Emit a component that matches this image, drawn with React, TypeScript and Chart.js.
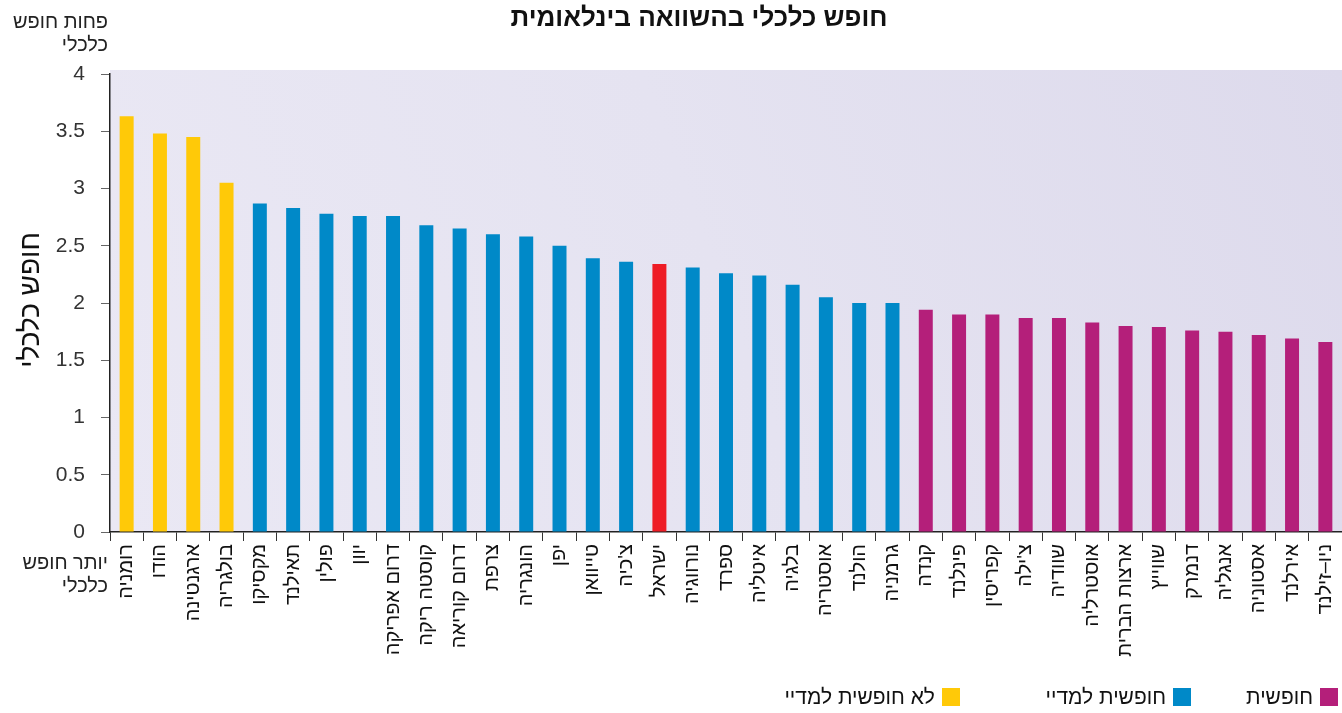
import React, { useEffect, useRef } from "react";
import { Chart, registerables } from "chart.js";

Chart.register(...registerables);

const categories = [
  "רומניה", "הודו", "ארגנטינה", "בולגריה", "מקסיקו", "תאילנד", "פולין", "יוון",
  "דרום אפריקה", "קוסטה ריקה", "דרום קוריאה", "צרפת", "הונגריה", "יפן", "טייוואן",
  "צ'כיה", "ישראל", "נורווגיה", "ספרד", "איטליה", "בלגיה", "אוסטריה", "הולנד",
  "גרמניה", "קנדה", "פינלנד", "קפריסין", "צ'ילה", "שוודיה", "אוסטרליה",
  "ארצות הברית", "שווייץ", "דנמרק", "אנגליה", "אסטוניה", "אירלנד", "ניו–זילנד",
];

const values = [
  3.63, 3.48, 3.45, 3.05, 2.87, 2.83, 2.78, 2.76,
  2.76, 2.68, 2.65, 2.6, 2.58, 2.5, 2.39,
  2.36, 2.34, 2.31, 2.26, 2.24, 2.16, 2.05, 2.0,
  2.0, 1.94, 1.9, 1.9, 1.87, 1.87, 1.83,
  1.8, 1.79, 1.76, 1.75, 1.72, 1.69, 1.66,
];

// 0 = free, 1 = mostly free, 2 = not free, 3 = highlighted (Israel)
const groups = [
  2, 2, 2, 2, 1, 1, 1, 1,
  1, 1, 1, 1, 1, 1, 1,
  1, 3, 1, 1, 1, 1, 1, 1,
  1, 0, 0, 0, 0, 0, 0,
  0, 0, 0, 0, 0, 0, 0,
];

const groupColors = ["#B41F7A", "#0089C8", "#FFC908", "#EE1C25"];

const legendLabels = ["חופשית", "חופשית למדיי", "לא חופשית למדיי"];
const legendColors = ["#B41F7A", "#0089C8", "#FFC908"];

const chartTitle = "חופש כלכלי בהשוואה בינלאומית";
const yAxisTitle = "חופש כלכלי";
const topNote = ["פחות חופש", "כלכלי"];
const bottomNote = ["יותר חופש", "כלכלי"];

const yMin = 0;
const yMax = 4;
const yStep = 0.5;

const FONT = "'Liberation Sans', Arial, sans-serif";

const decorPlugin = {
  id: "decor",
  beforeDraw(chart: any) {
    const { ctx, chartArea } = chart;
    const { left, right, top, bottom } = chartArea;
    ctx.save();
    const g = ctx.createLinearGradient(left, bottom, right, top - 4);
    g.addColorStop(0, "#EAE8F4");
    g.addColorStop(0.5, "#E5E3F1");
    g.addColorStop(1, "#DDDAEC");
    ctx.fillStyle = g;
    ctx.fillRect(left, top - 4, right - left, bottom - top + 4);
    ctx.restore();
  },
  afterDraw(chart: any) {
    const { ctx } = chart;
    ctx.save();
    // title
    ctx.fillStyle = "#111";
    ctx.font = `bold 26px ${FONT}`;
    ctx.textAlign = "center";
    ctx.textBaseline = "middle";
    ctx.fillText(chartTitle, 699, 19);

    // y axis title
    ctx.save();
    ctx.translate(31, 300);
    ctx.rotate(-Math.PI / 2);
    ctx.font = `28px ${FONT}`;
    ctx.fillStyle = "#111";
    ctx.textAlign = "center";
    ctx.textBaseline = "middle";
    ctx.fillText(yAxisTitle, 0, 0);
    ctx.restore();

    // corner notes
    ctx.font = `20px ${FONT}`;
    ctx.fillStyle = "#222";
    ctx.textAlign = "right";
    ctx.textBaseline = "middle";
    ctx.fillText(topNote[0], 108, 22);
    ctx.fillText(topNote[1], 108, 45);
    ctx.fillText(bottomNote[0], 108, 563);
    ctx.fillText(bottomNote[1], 108, 586);

    // legend (right to left)
    ctx.font = `21px ${FONT}`;
    const boxRights = [1338, 1191, 960];
    const y = 697;
    const box = 18;
    for (let i = 0; i < legendLabels.length; i++) {
      const x = boxRights[i];
      ctx.fillStyle = legendColors[i];
      ctx.fillRect(x - box, y - box / 2, box, box);
      ctx.fillStyle = "#111";
      ctx.textAlign = "right";
      ctx.fillText(legendLabels[i], x - box - 7, y + 1);
    }
    ctx.restore();
  },
};

export default function App() {
  const ref = useRef<HTMLCanvasElement | null>(null);

  useEffect(() => {
    if (!ref.current) return;
    const chart = new Chart(ref.current, {
      type: "bar",
      data: {
        labels: categories,
        datasets: [
          {
            data: values,
            backgroundColor: groups.map((g) => groupColors[g]),
            barPercentage: 0.42,
            categoryPercentage: 1,
          },
        ],
      },
      options: {
        responsive: false,
        animation: false,
        layout: { padding: { top: 74, left: 0, right: 0, bottom: 0 } },
        plugins: {
          legend: { display: false },
          title: { display: false },
          tooltip: { enabled: false },
        },
        scales: {
          x: {
            offset: true,
            grid: {
              offset: true,
              drawOnChartArea: false,
              drawTicks: true,
              tickLength: 9,
              tickColor: "#333",
            },
            border: { color: "#222", width: 1.5 },
            ticks: {
              autoSkip: false,
              maxRotation: 90,
              minRotation: 90,
              padding: 3,
              color: "#111",
              font: { family: FONT, size: 20 },
            },
            afterFit(scale: any) {
              scale.height = 181;
              scale.paddingRight = 0;
              scale.paddingLeft = 0;
            },
          },
          y: {
            min: yMin,
            max: yMax,
            grid: {
              drawOnChartArea: false,
              drawTicks: true,
              tickLength: 9,
              tickColor: "#666",
            },
            border: { color: "#222", width: 1.5 },
            ticks: {
              stepSize: yStep,
              padding: 16,
              color: "#333",
              font: { family: FONT, size: 21 },
              callback: (v: any) => String(Number(v)),
            },
            afterFit(scale: any) {
              scale.width = 110;
            },
          },
        },
      },
      plugins: [decorPlugin],
    });
    return () => chart.destroy();
  }, []);

  return (
    <div style={{ position: "absolute", left: 0, top: 0, width: 1342, height: 713, background: "#fff" }}>
      <canvas ref={ref} width={1342} height={713} style={{ display: "block" }} />
    </div>
  );
}
